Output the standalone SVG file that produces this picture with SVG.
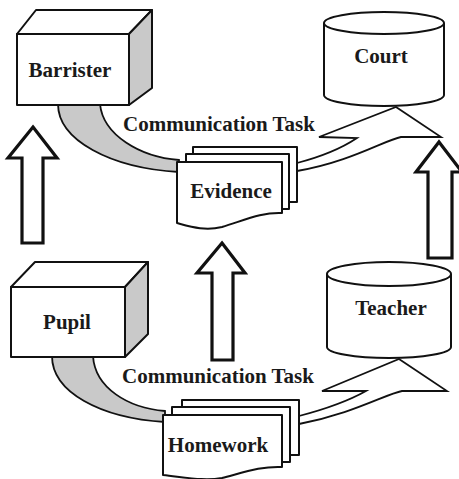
<svg xmlns="http://www.w3.org/2000/svg" width="459" height="479" viewBox="0 0 459 479">
  <style>
    .line { fill: none; stroke: #111; stroke-width: 2; stroke-linejoin: round; }
    .face { fill: #fff; stroke: #111; stroke-width: 2; stroke-linejoin: round; }
    .side { fill: #c9c9c9; stroke: #111; stroke-width: 2; stroke-linejoin: round; }
    .tail { fill: #c9c9c9; stroke: #111; stroke-width: 1.8; }
    .flow { fill: #fff; stroke: #111; stroke-width: 1.8; stroke-linejoin: miter; }
    .up { fill: #fff; stroke: #111; stroke-width: 3.2; stroke-linejoin: miter; }
    .lbl { font-family: "Liberation Serif", "Times New Roman", serif; font-weight: bold; font-size: 21px; fill: #1a1a1a; }
  </style>
  <rect width="459" height="479" fill="#fff"/>

  <!-- connectors: shaded tails, flow arrows and hollow up arrows -->
  <g id="connectors">
    <path class="tail" d="M58,104 C58,140 110,168 179,172 L179,160 C140,157 103,135 100,104 Z"/>
    <path class="tail" d="M52,356 C52,392 100,418 165,422 L165,411 C128,408 95,388 93,356 Z"/>
    <path class="flow" d="M297,163 C320,157 342,148 357,138 L319,137 L396,107 L441,137 L401,137 C385,140 350,162 297,171 Z"/>
    <path class="flow" d="M299,416 C322,410 350,400 366,391 L322,391 L399,359 L447,391 L402,391 C386,394 352,414 299,424 Z"/>
    <path class="up" d="M33,127 L57,158 L43,158 L43,243 L22,243 L22,158 L8,158 Z"/>
    <path class="up" d="M222,243 L245,273 L233,273 L233,360 L212,360 L212,273 L197,273 Z"/>
    <path class="up" d="M439,142 L462,172 L452,172 L452,258 L428,258 L428,172 L416,172 Z"/>
    <text class="lbl" x="123" y="131">Communication Task</text>
    <text class="lbl" x="122" y="383">Communication Task</text>
  </g>

  <g id="barrister">
    <path class="face" d="M17,34 L36,10 L152,10 L129,34 Z"/>
    <path class="side" d="M129,34 L152,10 L152,88 L129,105 Z"/>
    <rect class="face" x="17" y="34" width="112" height="71"/>
    <text class="lbl" x="70" y="77" text-anchor="middle">Barrister</text>
  </g>

  <g id="court">
    <path class="face" d="M324,23 L324,95 A60,11 0 0 0 444,95 L444,23"/>
    <ellipse class="face" cx="384" cy="23" rx="60" ry="11"/>
    <text class="lbl" x="381" y="63" text-anchor="middle">Court</text>
  </g>

  <g id="evidence">
    <rect class="face" x="193" y="147" width="104" height="55"/>
    <rect class="face" x="186" y="154" width="103" height="55"/>
    <path class="face" d="M177,162 H282 V213 C262,212 245,220 222,227 C205,231 192,227 177,223 Z"/>
    <text class="lbl" x="231" y="198" text-anchor="middle">Evidence</text>
  </g>

  <g id="pupil">
    <path class="face" d="M11,287 L35,262 L148,262 L125,287 Z"/>
    <path class="side" d="M125,287 L148,262 L148,334 L125,357 Z"/>
    <rect class="face" x="11" y="287" width="114" height="70"/>
    <text class="lbl" x="67" y="329" text-anchor="middle">Pupil</text>
  </g>

  <g id="teacher">
    <path class="face" d="M327,274 L327,347 A62,11 0 0 0 451,347 L451,274"/>
    <ellipse class="face" cx="389" cy="274" rx="62" ry="12"/>
    <text class="lbl" x="391" y="315" text-anchor="middle">Teacher</text>
  </g>

  <g id="homework">
    <rect class="face" x="182" y="400" width="117" height="55"/>
    <rect class="face" x="172" y="407" width="118" height="55"/>
    <path class="face" d="M163,415 H282 V467 C262,466 245,472 222,478 C205,481 190,478 163,475 Z"/>
    <text class="lbl" x="218" y="452" text-anchor="middle">Homework</text>
  </g>
</svg>
